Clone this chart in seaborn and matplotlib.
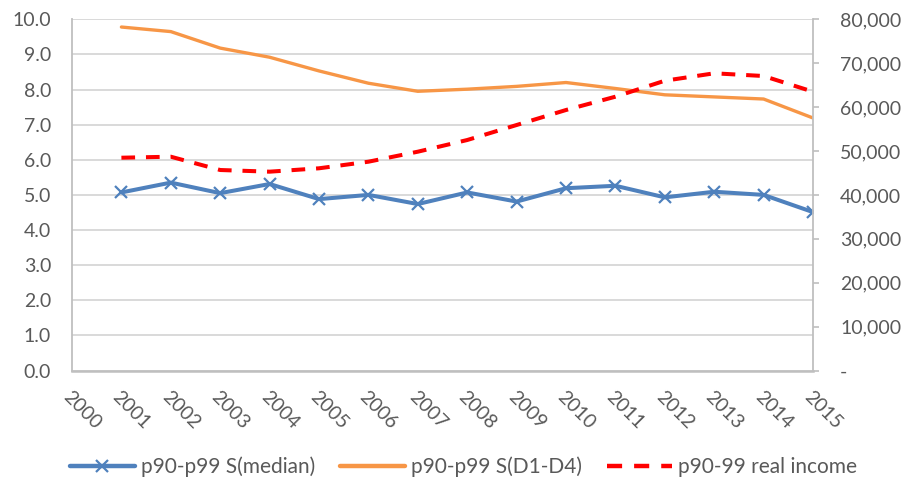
import matplotlib
matplotlib.use("Agg")
import matplotlib.pyplot as plt
import seaborn as sns
import pandas as pd
from matplotlib.ticker import FuncFormatter, MultipleLocator

# Data
years = list(range(2001, 2016))
s_median = [5.07, 5.35, 5.05, 5.31, 4.88, 5.00, 4.74, 5.07, 4.81, 5.19, 5.26, 4.93, 5.09, 5.00, 4.51]
s_d1_d4 = [9.78, 9.65, 9.18, 8.92, 8.53, 8.18, 7.95, 8.01, 8.09, 8.20, 8.03, 7.85, 7.79, 7.73, 7.19]
real_income = [48470, 48700, 45670, 45290, 46060, 47560, 49840, 52500, 55920, 59340,
               62370, 66010, 67700, 67080, 63510]
labels = ["p90-p99 S(median)", "p90-p99 S(D1-D4)", "p90-99 real income"]
x_ticks = list(range(2000, 2016))

df = pd.DataFrame({"year": years, "median": s_median, "d1d4": s_d1_d4, "income": real_income})

sns.set_style("white")
plt.rcParams["font.family"] = ["Lato", "DejaVu Sans"]

GRAY_TXT = "#595959"
GRID = "#d9d9d9"
AXIS = "#bfbfbf"
BLUE = "#4F81BD"
ORANGE = "#F79646"
RED = "#FF0000"
FS = 14

W, H = 904, 479
fig = plt.figure(figsize=(W / 100, H / 100), dpi=100)
ax = fig.add_axes([72 / W, 1 - 370.5 / H, (813 - 72) / W, (370.5 - 19.3) / H])
ax2 = ax.twinx()

sns.lineplot(data=df, x="year", y="median", ax=ax, color=BLUE, lw=2.9,
             marker="x", markersize=9, markeredgewidth=1.6, markeredgecolor=BLUE, legend=False)
sns.lineplot(data=df, x="year", y="d1d4", ax=ax, color=ORANGE, lw=2.4, legend=False)
sns.lineplot(data=df, x="year", y="income", ax=ax2, color=RED, lw=2.9, legend=False)
ax2.lines[0].set_dashes((3.4, 2.7))
ax2.lines[0].set_dash_capstyle("butt")

# Axes ranges and ticks
ax.set_xlim(2000, 2015)
ax.set_ylim(0, 10)
ax2.set_ylim(0, 80000)
ax.yaxis.set_major_locator(MultipleLocator(1))
ax2.yaxis.set_major_locator(MultipleLocator(10000))
ax.set_xticks(x_ticks)
ax.set_xticklabels([str(y) for y in x_ticks], rotation=-45, ha="left", va="top",
                   rotation_mode="anchor")
ax.yaxis.set_major_formatter(FuncFormatter(lambda v, p: f"{v:.1f}"))
ax2.yaxis.set_major_formatter(FuncFormatter(lambda v, p: "-" if v == 0 else f"{v:,.0f}"))

for a in (ax, ax2):
    a.set_xlabel("")
    a.set_ylabel("")

ax.grid(axis="y", color=GRID, lw=1.4)
ax.set_axisbelow(True)

ax.tick_params(axis="y", length=0, pad=15, labelsize=FS, labelcolor=GRAY_TXT)
ax.tick_params(axis="x", length=0, pad=13, labelsize=FS, labelcolor=GRAY_TXT)
ax2.tick_params(axis="y", length=4, width=1.2, color=AXIS, pad=15.5, labelsize=FS,
                labelcolor=GRAY_TXT, direction="out")

for a in (ax, ax2):
    for s in a.spines.values():
        s.set_visible(False)
ax.spines["left"].set_visible(True)
ax.spines["left"].set_color(AXIS)
ax.spines["left"].set_linewidth(1.3)
ax.spines["bottom"].set_visible(True)
ax.spines["bottom"].set_color(AXIS)
ax.spines["bottom"].set_linewidth(1.8)
ax2.spines["right"].set_visible(True)
ax2.spines["right"].set_color(AXIS)
ax2.spines["right"].set_linewidth(1.3)

handles = [ax.lines[0], ax.lines[1], ax2.lines[0]]
leg = fig.legend(handles, labels, loc="center", bbox_to_anchor=(463.5 / W, 1 - 467 / H), ncol=3,
                 frameon=False, handlelength=3.1, columnspacing=1.2, handletextpad=0.3,
                 fontsize=15, labelcolor=GRAY_TXT, borderpad=0, borderaxespad=0)
for h in leg.legend_handles:
    h.set_linewidth(3.2)

fig.savefig("out.png", dpi=100, facecolor="white")
